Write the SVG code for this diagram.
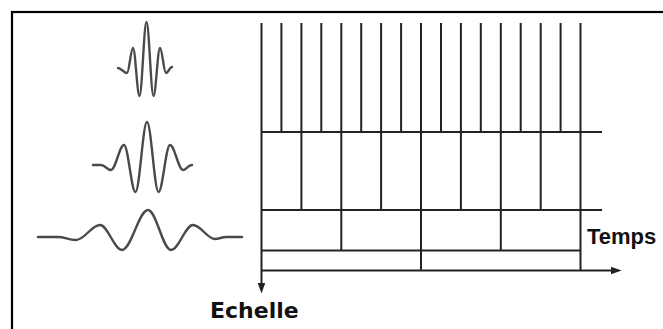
<svg xmlns="http://www.w3.org/2000/svg" width="663" height="329" viewBox="0 0 663 329">
<defs>
<style>
.ln{stroke:#222;stroke-width:2;fill:none}
.wv{stroke:#4a4a4a;stroke-width:2.4;fill:none;stroke-linecap:round;stroke-linejoin:round}
.lbl{font-family:"DejaVu Sans",sans-serif;font-weight:bold;font-size:22px;fill:#111}
</style>
<marker id="arr" markerUnits="userSpaceOnUse" markerWidth="12" markerHeight="10" viewBox="0 -4 10 8" refX="1" refY="0" orient="auto">
<path d="M0,-3.2 L9,0 L0,3.2 z" fill="#222"/>
</marker>
</defs>
<rect width="663" height="329" fill="#fff"/>
<rect id="frame" x="12" y="12" width="700" height="400" fill="none" stroke="#000" stroke-width="2.2"/>

<g id="wavelet-small">
<path class="wv" d="M118,68 C121,68 124,73 127,73 C129.2,73 130.8,48 133,48 C135.3,48 137.2,96 139.5,96 C142,96 144,22 146.5,22 C149,22 151,96 153.5,96 C155.8,96 157.7,48 160,48 C162.2,48 163.8,73 166,73 C168,73 170,67 172,67"/>
</g>
<g id="wavelet-medium">
<path class="wv" d="M93,165 L101,165 C105,165 107,170 111,170 C115.7,170 119.3,145 124,145 C128.1,145 131.4,192 135.5,192 C139.6,192 142.9,122 147,122 C151.1,122 154.4,192 158.5,192 C162.6,192 165.9,145 170,145 C174.7,145 178.3,170 183,170 C186,170 188,165 192,165"/>
</g>
<g id="wavelet-large">
<path class="wv" d="M38,237 L58,237 C65,237 68,240 76,240 C84.6,240 91.4,225 100,225 C107.9,225 114.1,250 122,250 C131.4,250 138.6,210 148,210 C156.3,210 162.7,250 171,250 C178.9,250 185.1,225 193,225 C200.9,225 207.1,239 215,239 C219,239 222,237 226,237 L242,237"/>
</g>

<g id="grid">
<path class="ln" d="M281.4,23 V132 M321.3,23 V132 M361.2,23 V132 M401.1,23 V132 M441,23 V132 M480.8,23 V132 M520.7,23 V132 M560.6,23 V132"/>
<path class="ln" d="M301.4,23 V210 M381.1,23 V210 M460.9,23 V210 M540.7,23 V210"/>
<path class="ln" d="M341.3,23 V250.5 M500.8,23 V250.5"/>
<path class="ln" d="M421,23 V270.5 M580.5,23 V270.5"/>
<path class="ln" d="M261.5,132 H602 M261.5,210 H602 M261.5,250.5 H580.5"/>
</g>

<g id="connectors">
<line id="axis-time" class="ln" x1="261.5" y1="270.5" x2="612" y2="270.5" marker-end="url(#arr)"/>
<path id="axis-scale" class="ln" d="M261.5,23 V284" marker-end="url(#arr)"/>
</g>

<g id="labels">
<text class="lbl" x="587" y="244" style="font-family:'Liberation Sans',Arial,sans-serif">Temps</text>
<text class="lbl" x="210" y="318">Echelle</text>
</g>
</svg>
